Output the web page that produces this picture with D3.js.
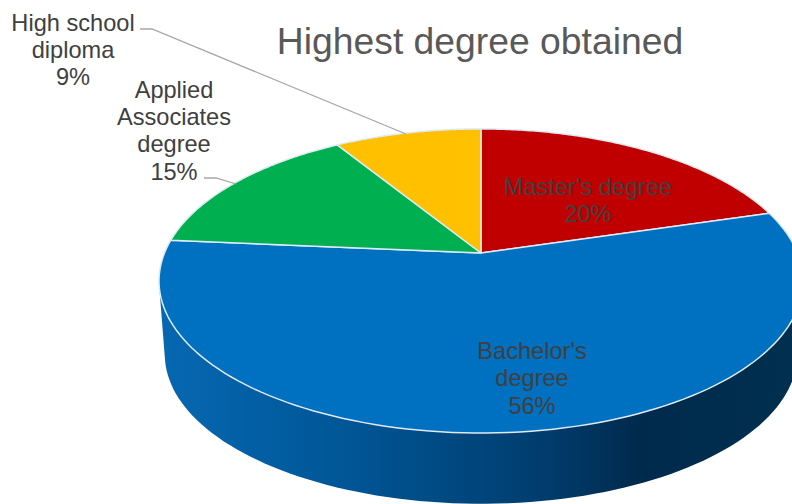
<!DOCTYPE html>
<html>
<head>
<meta charset="utf-8">
<script src="https://cdnjs.cloudflare.com/ajax/libs/d3/7.8.5/d3.min.js"></script>
<style>html,body{margin:0;padding:0;background:#fff;overflow:hidden}svg{display:block}text{font-family:"Liberation Sans",Arial,sans-serif}</style>
</head>
<body>
<svg id="chart" width="792" height="504"></svg>
<script>
const chartTitle = "Highest degree obtained";
const categories = ["Master's degree", "Bachelor's degree", "Applied Associates degree", "High school diploma"];
const values = [20.4, 56, 14.8, 8.8];
const percentLabels = ["20%", "56%", "15%", "9%"];
const labelLines = [["Master's degree", "20%"], ["Bachelor's", "degree", "56%"], ["Applied", "Associates", "degree", "15%"], ["High school", "diploma", "9%"]];
const colors = ["#c00000", "#0070c0", "#00b050", "#ffc000"];

// layout (kept apart from the data)
const labelAnchors = [[588, 195], [532, 359], [174, 97.5], [73, 30.5]];
const labelDy = 27.4;
const leaders = [null, null, [[204, 178], [216, 178], [236, 184]], [[140, 29], [152, 29], [406, 134]]];
const persp = {cx: 481, cy: 253, a: 316.5, b: 146.9, k: 0.184};
const depth = {dy: 74, scale: 0.982};

const svg = d3.select("#chart");
const defs = svg.append("defs");
const wallGrad = defs.append("linearGradient").attr("id", "wall")
  .attr("gradientUnits", "userSpaceOnUse").attr("x1", 160).attr("x2", 800).attr("y1", 0).attr("y2", 0);
[[0, "#0668b2"], [0.3, "#005595"], [0.6, "#003d6e"], [0.75, "#002a4c"], [1, "#00304f"]]
  .forEach(([o, c]) => wallGrad.append("stop").attr("offset", o).attr("stop-color", c));

function project(angle, r, lower) {
  const u = r * Math.sin(angle), v = -r * Math.cos(angle);
  const w = 1 - persp.k * v;
  const s = lower ? depth.scale : 1;
  return [persp.cx + s * persp.a * u / w, persp.cy + s * persp.b * v / w + (lower ? depth.dy : 0)];
}
const pie = d3.pie().sort(null).value(d => d)(values);
const line = d3.line();

function arcPoints(a0, a1, lower) {
  return d3.range(0, 121).map(i => project(a0 + (a1 - a0) * i / 120, 1, lower));
}
// side wall of the front slice: hull of its top and bottom arcs
const front = pie[1];
const wallHull = d3.polygonHull(arcPoints(front.startAngle, front.endAngle, false)
  .concat(arcPoints(front.startAngle, front.endAngle, true)));
svg.append("path").attr("d", line(wallHull) + "Z").attr("fill", "url(#wall)");

// top faces
svg.append("g").selectAll("path").data(pie).join("path")
  .attr("d", d => line([[persp.cx, persp.cy]].concat(arcPoints(d.startAngle, d.endAngle, false))) + "Z")
  .attr("fill", (d, i) => colors[i])
  .attr("stroke", "#dfeaf3").attr("stroke-width", 1.5).attr("stroke-linejoin", "round");

// leader lines
svg.append("g").selectAll("path").data(leaders.filter(Boolean)).join("path")
  .attr("d", d => line(d)).attr("fill", "none").attr("stroke", "#a6a6a6").attr("stroke-width", 1.3);

// title
svg.append("text").attr("x", 480).attr("y", 54).attr("text-anchor", "middle")
  .attr("font-size", 37.3).attr("fill", "#595959").text(chartTitle);

// labels
labelLines.forEach((lines, i) => {
  const t = svg.append("text").attr("text-anchor", "middle").attr("font-size", 23.6).attr("fill", "#404040");
  lines.forEach((l, j) => t.append("tspan").attr("x", labelAnchors[i][0]).attr("y", labelAnchors[i][1] + j * labelDy).text(l));
});
</script>
</body>
</html>
